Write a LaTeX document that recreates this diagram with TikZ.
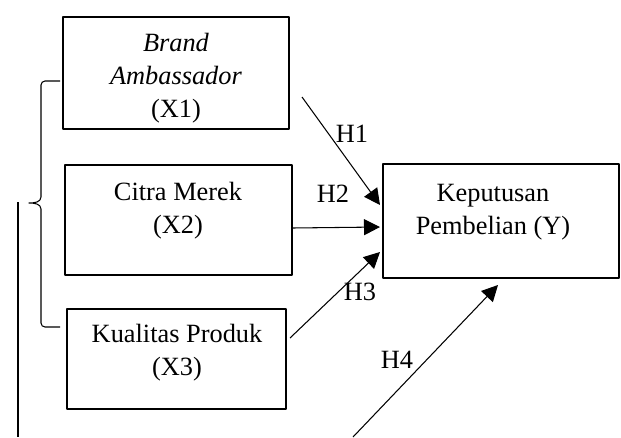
\documentclass[tikz,border=0pt]{standalone}
\usepackage{fontspec}
\setmainfont{Liberation Serif}
\usetikzlibrary{arrows.meta}
\tikzset{
  kotak/.style={draw, line width=0.8pt, inner sep=0pt},
  teks/.style={align=center, inner sep=0pt},
  hip/.style={inner sep=0pt},
  panah/.style={->, line width=0.6pt}
}
\begin{document}
\begin{tikzpicture}[x=0.02cm, y=-0.02cm, font=\fontsize{15}{18.7}\selectfont, line join=round, >={Triangle[length=0.32cm,width=0.32cm]}]
\useasboundingbox (0,0) rectangle (621,437);
% kotak variabel
\node[kotak, minimum width=4.52cm, minimum height=2.24cm] (x1) at (176,73) {};
\node[kotak, minimum width=4.54cm, minimum height=2.2cm] (x2) at (178.5,220) {};
\node[kotak, minimum width=4.38cm, minimum height=2cm] (x3) at (176.5,359) {};
\node[kotak, minimum width=4.72cm, minimum height=2.28cm] (y) at (501,221) {};
\node[teks] (x1t) at (176,78) {\textit{Brand}\\\textit{Ambassador}\\(X1)};
\node[teks] (x2t) at (178,211) {Citra Merek\\(X2)};
\node[teks] (x3t) at (177,353) {Kualitas Produk\\(X3)};
\node[teks] (yt) at (493,212) {Keputusan\\Pembelian (Y)};
% ujung panah
\coordinate (h1a) at (302,97);  \coordinate (h1b) at (380,205);
\coordinate (h2a) at (292,228); \coordinate (h2b) at (380,227);
\coordinate (h3a) at (290,338); \coordinate (h3b) at (380,252);
\coordinate (h4a) at (353,437); \coordinate (h4b) at (498,285);
\draw[panah] (h1a)--(h1b);
\draw[panah] (h2a)--(h2b);
\draw[panah] (h3a)--(h3b);
\draw[panah] (h4a)--(h4b);
\node[hip] (h1) at (352,134) {H1};
\node[hip] (h2) at (333,194) {H2};
\node[hip] (h3) at (360,292) {H3};
\node[hip] (h4) at (397,360) {H4};
% kurung kurawal dan garis simultan
\draw[line width=0.6pt] (60,81)--(45,81) to[out=180,in=90] (41,85)--(41,197) to[out=-90,in=0] (29,203)
  to[out=0,in=90] (41,209)--(41,323) to[out=-90,in=180] (45,327)--(60,327);
\coordinate (ga) at (18,202); \coordinate (gb) at (18,437);
\draw[line width=0.6pt] (ga)--(gb);
\end{tikzpicture}
\end{document}
